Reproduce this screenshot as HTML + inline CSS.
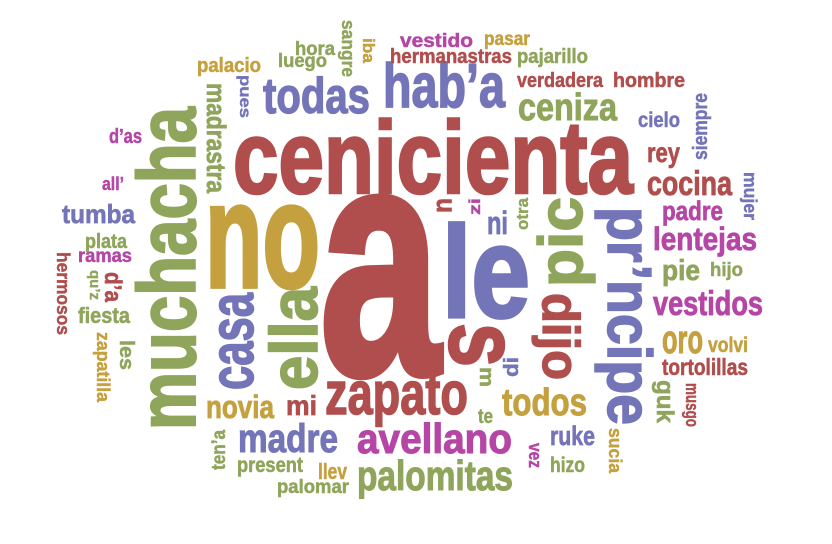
<!DOCTYPE html>
<html><head><meta charset="utf-8">
<style>
html,body{margin:0;padding:0;background:#fff;}
svg{display:block;}
text{font-family:"Liberation Sans Narrow","Liberation Sans",sans-serif;font-weight:bold;}
</style></head>
<body>
<svg id="cloud" width="832" height="544" viewBox="0 0 832 544" xmlns="http://www.w3.org/2000/svg">
<rect width="832" height="544" fill="#fff"/>
</svg>
<script>
const palette = {R:"#b04e4e", O:"#c4a03e", G:"#8fa55b", B:"#7474b8", M:"#b546a6"};
// [word, color, x, baseline y, length, font-size, rotation]
const words = [
["cenicienta","R",233,193,400,103,0],
["no","O",205,287,115,150,0],
["a","R",320,373,120,326,0],
["le","B",442,317,88,130,0],
["s","R",450,323,44,100,90],
["muchacha","G",195,430,323,82,-90],
["ella","G",317,390,103,67,-90],
["casa","B",253,390,97,62,-90],
["zapato","R",325,414,143,60,0],
["avellano","M",357,453,155,42,0],
["palomitas","G",357,490,156,42,0],
["madre","B",238,452,100,40,0],
["novia","O",206,418,68,32,0],
["mi","R",286,415,31,28,0],
["present","G",237,472,66,21,0],
["llev","O",318,479,29,22,0],
["palomar","G",277,493,72,19,0],
["ten\u2019a","G",225,470,40,19,-90],
["zapatilla","O",97,332,70,18,90],
["les","G",120,340,30,20,90],
["fiesta","G",78,323,52,22,0],
["d\u2019a","R",105,272,30,24,90],
["qu\u2019z","G",90,270,30,15,90],
["hermosos","R",57,252,83,18,90],
["ramas","M",78,262,54,19,0],
["plata","G",85,248,42,20,0],
["tumba","B",62,223,73,26,0],
["all\u2019","M",102,190,22,18,0],
["d\u2019as","M",109,143,33,20,0],
["madrastra","G",207,83,110,27,90],
["pues","B",240,75,43,16,90],
["todas","B",263,113,107,50,0],
["palacio","O",197,72,64,20,0],
["luego","G",278,67,49,19,0],
["hora","G",295,55,40,19,0],
["sangre","G",342,20,57,18,90],
["iba","O",363,38,25,17,90],
["hab\u2019a","B",383,107,122,62,0],
["hermanastras","R",390,63,122,20,0],
["vestido","M",400,47,73,19,0],
["pasar","O",484,45,46,19,0],
["pajarillo","G",517,63,71,20,0],
["verdadera","R",517,87,86,20,0],
["hombre","R",613,87,72,20,0],
["ceniza","G",518,120,99,38,0],
["cielo","B",638,127,42,21,0],
["siempre","B",707,160,67,20,-90],
["rey","R",647,162,33,28,0],
["cocina","R",647,195,85,34,0],
["mujer","B",744,172,48,18,90],
["padre","M",662,220,61,27,0],
["lentejas","M",653,250,104,32,0],
["pie","G",662,280,38,29,0],
["hijo","G",710,276,33,19,0],
["vestidos","M",653,315,110,34,0],
["oro","O",662,353,41,40,0],
["volvi","O",708,352,40,21,0],
["tortolillas","R",662,375,86,23,0],
["guk","G",657,380,43,24,90],
["musgo","R",686,383,44,18,90],
["pr\u2019ncipe","B",608,207,218,62,90],
["pic","G",582,287,90,62,-90],
["dijo","R",543,293,87,52,90],
["todos","O",502,415,85,38,0],
["te","G",478,423,15,20,0],
["m","G",480,367,20,20,90],
["di","B",518,377,20,20,-90],
["ruke","B",550,445,45,27,0],
["hizo","G",550,472,35,21,0],
["vez","M",529,443,25,18,90],
["sucia","O",609,428,45,18,90],
["ni","B",487,234,21,32,0],
["otra","G",528,230,32,17,-90],
["zi","M",480,215,17,16,-90],
["u","R",437,198,15,28,90]
];
const svg = document.getElementById('cloud');
const NS = "http://www.w3.org/2000/svg";
words.forEach(w => {
  const t = document.createElementNS(NS,'text');
  
  
  t.setAttribute('x', w[2]);
  t.setAttribute('y', w[3]);
  t.setAttribute('font-size', w[5]);
  t.setAttribute('fill', palette[w[1]]);
  t.setAttribute('stroke', palette[w[1]]);
  t.setAttribute('stroke-width', (w[5] * 0.025).toFixed(2));
  t.setAttribute('textLength', w[4]);
  t.setAttribute('lengthAdjust', 'spacingAndGlyphs');
  if (w[6]) t.setAttribute('transform', 'rotate(' + w[6] + ' ' + w[2] + ' ' + w[3] + ')');
  t.textContent = w[0];
  svg.appendChild(t);
});
</script>
</body></html>
